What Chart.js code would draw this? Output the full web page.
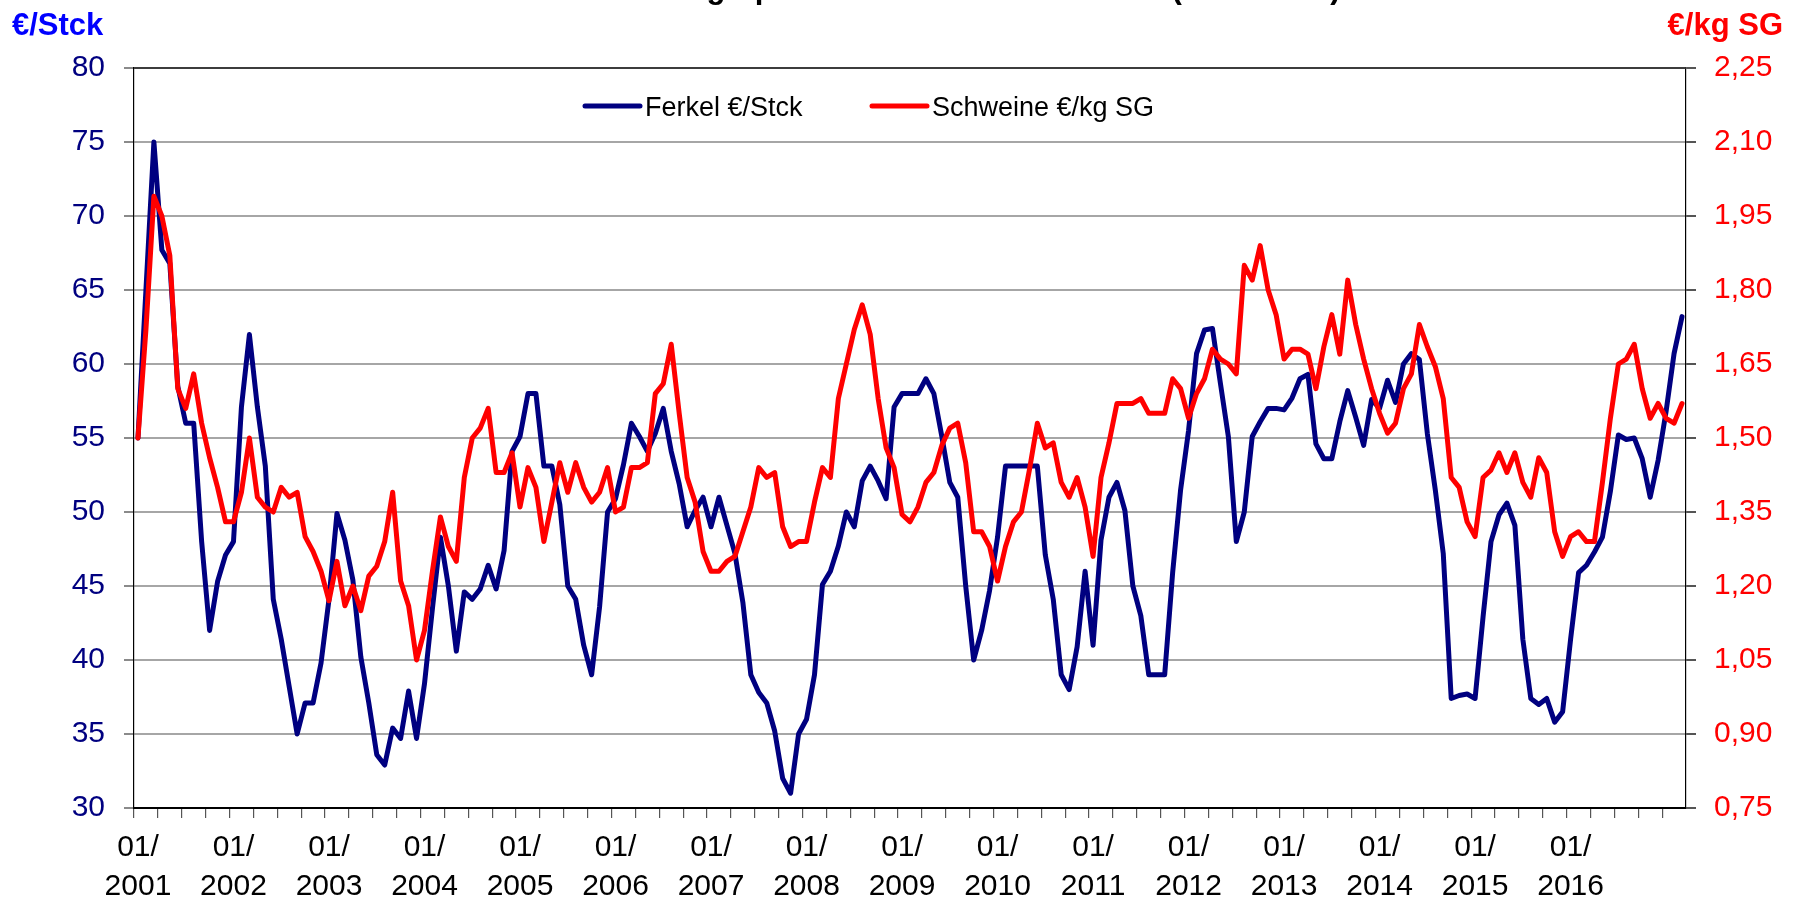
<!DOCTYPE html>
<html>
<head>
<meta charset="utf-8">
<script src="https://cdn.jsdelivr.net/npm/chart.js@4.4.1/dist/chart.umd.min.js"></script>
<style>
  html, body { margin: 0; padding: 0; background: #ffffff; overflow: hidden; }
  #wrap { width: 1793px; height: 901px; }
</style>
</head>
<body>
<div id="wrap"><canvas id="c" width="1793" height="901"></canvas></div>
<script>
// ---- data ----
const chartTitle = 'Erzeugerpreise Ferkel und Schweine (2001-2017)';
const seriesNames = ['Ferkel €/Stck', 'Schweine €/kg SG'];
const yearLabels = ['2001','2002','2003','2004','2005','2006','2007','2008','2009','2010','2011','2012','2013','2014','2015','2016'];
const firstYear = 2001;
const monthCount = 195; // 01/2001 .. 03/2017

const months = [];
for (let i = 0; i < monthCount; i++) {
  const y = firstYear + Math.floor(i / 12);
  const m = (i % 12) + 1;
  months.push((m < 10 ? '0' + m : '' + m) + '/' + y);
}

const ferkel = [
  55, 65, 75, 67.7, 66.8, 58.5, 56, 56, 48, 42, 45.3, 47.1,
  48, 57.1, 62, 57.1, 53.1, 44.1, 41.4, 38.2, 35, 37.1, 37.1, 39.8,
  44.1, 49.9, 48.1, 45.4, 40.2, 37.1, 33.6, 32.9, 35.4, 34.7, 37.9, 34.7,
  38.4, 43.5, 48.3, 45, 40.6, 44.6, 44.1, 44.8, 46.4, 44.8, 47.4, 54.1,
  55.1, 58, 58, 53.1, 53.1, 50.5, 45, 44.1, 41, 39, 43.6, 50,
  50.9, 53.2, 56, 55.1, 54.1, 55.3, 57, 54.1, 51.9, 49, 50.1, 51,
  49, 51, 49.1, 47.2, 43.9, 39, 37.8, 37.1, 35.2, 32, 31, 35,
  36, 39, 45.1, 46, 47.7, 50, 49, 52.1, 53.1, 52.1, 50.9, 57.1,
  58, 58, 58, 59, 58, 55.1, 52, 51, 45, 40, 42, 44.7,
  48.3, 53.1, 53.1, 53.1, 53.1, 53.1, 47.1, 44.1, 39, 38, 40.9, 46,
  41, 48.1, 51, 52, 50.1, 45, 43, 39, 39, 39, 45.9, 51.5,
  55.5, 60.7, 62.3, 62.4, 58.7, 55.1, 48, 50, 55.1, 56.1, 57, 57,
  56.9, 57.7, 59, 59.3, 54.6, 53.6, 53.6, 56.1, 58.2, 56.4, 54.5, 57.6,
  57, 58.9, 57.4, 60, 60.7, 60.3, 55.3, 51.5, 47.2, 37.4, 37.6, 37.7,
  37.4, 42.9, 48, 49.8, 50.6, 49.1, 41.4, 37.4, 37, 37.4, 35.8, 36.5,
  41.4, 45.9, 46.4, 47.3, 48.3, 51.4, 55.2, 54.9, 55, 53.6, 51, 53.5,
  56.8, 60.7, 63.2
];

const schweine = [
  1.50, 1.72, 1.99, 1.95, 1.87, 1.60, 1.56, 1.63, 1.53, 1.46, 1.40, 1.33,
  1.33, 1.39, 1.50, 1.38, 1.36, 1.35, 1.40, 1.38, 1.39, 1.30, 1.27, 1.23,
  1.17, 1.25, 1.16, 1.20, 1.15, 1.22, 1.24, 1.29, 1.39, 1.21, 1.16, 1.05,
  1.11, 1.23, 1.34, 1.28, 1.25, 1.42, 1.50, 1.52, 1.56, 1.43, 1.43, 1.47,
  1.36, 1.44, 1.40, 1.29, 1.37, 1.45, 1.39, 1.45, 1.40, 1.37, 1.39, 1.44,
  1.35, 1.36, 1.44, 1.44, 1.45, 1.59, 1.61, 1.69, 1.55, 1.42, 1.37, 1.27,
  1.23, 1.23, 1.25, 1.26, 1.31, 1.36, 1.44, 1.42, 1.43, 1.32, 1.28, 1.29,
  1.29, 1.37, 1.44, 1.42, 1.58, 1.65, 1.72, 1.77, 1.71, 1.58, 1.48, 1.44,
  1.345, 1.33, 1.36, 1.41, 1.43, 1.485, 1.52, 1.53, 1.45, 1.31, 1.31, 1.28,
  1.21, 1.28, 1.33, 1.35, 1.435, 1.53, 1.48, 1.49, 1.41, 1.38, 1.42, 1.36,
  1.26, 1.42, 1.49, 1.57, 1.57, 1.57, 1.58, 1.55, 1.55, 1.55, 1.62, 1.60,
  1.54, 1.59, 1.62, 1.68, 1.66, 1.65, 1.63, 1.85, 1.82, 1.89, 1.80, 1.75,
  1.66, 1.68, 1.68, 1.67, 1.60, 1.685, 1.75, 1.67, 1.82, 1.73, 1.66, 1.60,
  1.55, 1.51, 1.53, 1.60, 1.63, 1.73, 1.685, 1.645, 1.58, 1.42, 1.40, 1.33,
  1.30, 1.42, 1.435, 1.47, 1.43, 1.47, 1.41, 1.38, 1.46, 1.43, 1.31, 1.26,
  1.30, 1.31, 1.29, 1.29, 1.41, 1.54, 1.65, 1.66, 1.69, 1.60, 1.54, 1.57,
  1.54, 1.53, 1.57
];

// ---- styles ----
const NAVY = '#000080';
const RED = '#FF0000';
const FONT = '"Liberation Sans", Arial, Helvetica, sans-serif';

const decor = {
  id: 'decor',
  afterDraw(chart) {
    const ctx = chart.ctx;
    const a = chart.chartArea;
    ctx.save();
    // top frame line of plot area
    ctx.strokeStyle = '#3c3c3c';
    ctx.lineWidth = 1.5;
    ctx.beginPath();
    ctx.moveTo(a.left, a.top);
    ctx.lineTo(a.right, a.top);
    ctx.stroke();

    // cropped title (only descenders are visible)
    ctx.font = 'bold 31px ' + FONT;
    ctx.fillStyle = '#000000';
    ctx.textAlign = 'left';
    ctx.textBaseline = 'alphabetic';
    ctx.fillText(chartTitle, 622, -2);

    // axis unit titles
    ctx.font = 'bold 31px ' + FONT;
    ctx.fillStyle = '#0000FF';
    ctx.textAlign = 'left';
    ctx.fillText('€/Stck', 12, 35);
    ctx.fillStyle = RED;
    ctx.textAlign = 'right';
    ctx.fillText('€/kg SG', 1783, 35);

    // legend inside the plot area
    const items = [
      { name: seriesNames[0], color: NAVY, x0: 585 },
      { name: seriesNames[1], color: RED, x0: 872 }
    ];
    ctx.lineCap = 'round';
    ctx.lineWidth = 5;
    ctx.font = '27px ' + FONT;
    ctx.textAlign = 'left';
    ctx.fillStyle = '#000000';
    items.forEach(it => {
      ctx.strokeStyle = it.color;
      ctx.beginPath();
      ctx.moveTo(it.x0, 106);
      ctx.lineTo(it.x0 + 55, 106);
      ctx.stroke();
      ctx.fillText(it.name, it.x0 + 60, 116);
    });
    ctx.restore();
  }
};

new Chart(document.getElementById('c'), {
  type: 'line',
  data: {
    labels: months,
    datasets: [
      {
        label: seriesNames[1],
        data: schweine,
        yAxisID: 'y2',
        borderColor: RED,
        backgroundColor: RED,
        borderWidth: 5,
        pointRadius: 0,
        tension: 0,
        borderJoinStyle: 'round',
        borderCapStyle: 'round',
        order: 0
      },
      {
        label: seriesNames[0],
        data: ferkel,
        yAxisID: 'y',
        borderColor: NAVY,
        backgroundColor: NAVY,
        borderWidth: 5,
        pointRadius: 0,
        tension: 0,
        borderJoinStyle: 'round',
        borderCapStyle: 'round',
        order: 1
      }
    ]
  },
  options: {
    responsive: false,
    devicePixelRatio: 1,
    animation: false,
    layout: { padding: { top: 68, left: 0, right: 0, bottom: 0 } },
    plugins: {
      legend: { display: false },
      title: { display: false },
      tooltip: { enabled: false }
    },
    scales: {
      x: {
        type: 'category',
        offset: true,
        afterFit: s => { s.height = 93; },
        grid: {
          offset: true,
          drawOnChartArea: false,
          drawTicks: true,
          tickLength: 10,
          lineWidth: 1.2,
          color: c => (c.index % 3 === 0 ? '#555555' : 'rgba(0,0,0,0)')
        },
        border: { display: true, color: '#000000', width: 2 },
        ticks: {
          autoSkip: false,
          maxRotation: 0,
          minRotation: 0,
          padding: 10,
          color: '#000000',
          font: { family: FONT, size: 30, lineHeight: 1.3 },
          callback: function (val, idx) {
            if (idx % 12 === 0) {
              const y = yearLabels[idx / 12];
              if (y) return ['01/', y];
            }
            return '';
          }
        }
      },
      y: {
        position: 'left',
        min: 30,
        max: 80,
        afterFit: s => { s.width = 134; },
        grid: {
          drawOnChartArea: true,
          tickLength: 10,
          lineWidth: 2,
          color: c => (c.tick && c.tick.value === 80 ? '#3c3c3c' : '#a6a6a6'),
          tickColor: '#8a8a8a'
        },
        border: { display: true, color: '#000000', width: 1.2 },
        ticks: {
          stepSize: 5,
          padding: 19,
          color: NAVY,
          font: { family: FONT, size: 30 },
          callback: v => String(v)
        }
      },
      y2: {
        position: 'right',
        min: 0.75,
        max: 2.25,
        afterFit: s => { s.width = 107; },
        grid: {
          drawOnChartArea: false,
          tickLength: 10,
          lineWidth: 2,
          color: '#555555'
        },
        border: { display: true, color: '#000000', width: 1.2 },
        ticks: {
          stepSize: 0.15,
          padding: 18,
          color: RED,
          font: { family: FONT, size: 30 },
          callback: v => v.toFixed(2).replace('.', ',')
        }
      }
    }
  },
  plugins: [decor]
});
</script>
</body>
</html>
